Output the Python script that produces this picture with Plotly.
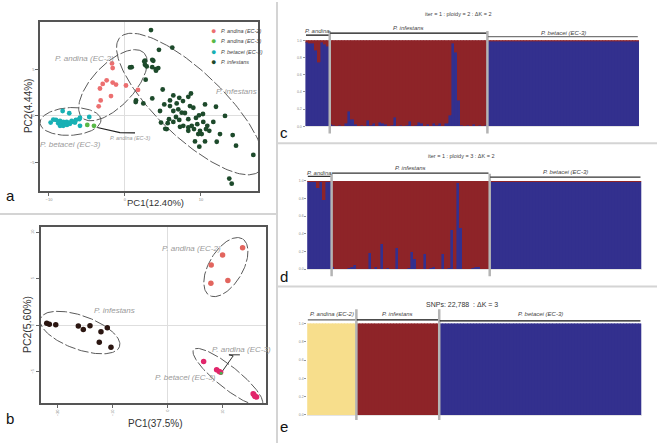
import numpy as np
import plotly.graph_objects as go

W, H = 657, 445

# ---------------- panel a : PCA (PC1 12.40% / PC2 4.44%) ----------------
a_andina2_x = [-1.71, -1.62, -2.41, -2.93, -3.29, -1.62, -1.18, -1.84, 0.13, 1.71, -3.20, -3.46]
a_andina2_y = [5.64, 5.14, 3.83, 3.44, 2.95, 3.59, 3.37, 2.13, 3.27, 2.80, 1.67, 1.03]
a_andina3_x = [-4.96, -4.08]
a_andina3_y = [-0.96, -1.06]
a_betacei_x = [-9.78, -9.08, -8.20, -7.33, -8.78, -8.33, -8.12, -7.89, -7.67, -7.33, -7.01, -6.80,
               -6.58, -5.92, -6.01, -4.70, -8.12, -8.55, -9.43, -5.92, -7.63, -7.24, -8.55, -6.45]
a_betacei_y = [-0.71, -0.43, 0.53, 0.29, -0.78, -0.99, -0.64, -0.88, -0.64, -0.71, -0.53, -0.64,
               -0.71, -1.06, -0.35, -0.11, -1.06, -1.06, -0.39, -0.18, -0.96, -0.85, -0.53, -0.43]
a_infestans_x = [3.42, 4.47, 6.22, 2.63, 2.63, 2.86, 3.59, 3.59, 4.04, 4.38, 0.66, 2.72, 4.96, 3.59,
                 2.41, 1.41, 6.36, 7.14, 8.68, 8.33, 5.17, 5.92, 6.80, 7.01, 6.36, 7.46, 8.55, 8.99,
                 9.74, 10.53, 11.97, 13.16, 4.61, 5.79, 5.62, 6.36, 7.14, 7.67, 8.33, 8.33, 8.78,
                 9.51, 9.87, 9.64, 10.09, 10.66, 11.09, 10.83, 11.62, 12.50, 14.17, 9.21, 10.53,
                 9.78, 12.07, 14.61, 16.88, 13.72, 14.04, 4.74, 5.49, 8.33, 9.08, 10.30, 0.88, 3.72,
                 4.08, 1.45, 5.92, 5.30, 2.54, 7.63, 7.89, 6.71, 9.34, 10.26, 7.24]
a_infestans_y = [9.22, 7.10, 7.34, 5.93, 5.50, 5.32, 6.03, 5.24, 5.03, 5.14, 5.21, 3.90, 2.84, 1.88,
                 1.35, 1.49, 2.20, 1.95, 2.41, 2.05, 1.24, 1.06, 1.35, 0.71, 0.53, 0.35, 1.06, 0.88,
                 0.07, 1.24, 0.99, 0.00, 0.53, -0.35, -0.78, -0.64, -0.43, -1.06, -0.35, -1.60, -1.06,
                 -0.88, -1.60, -1.95, -1.95, -1.41, -1.60, -1.06, -0.64, -1.95, -2.05, -2.73, -2.73,
                 -3.30, -2.77, -3.19, -4.18, -6.73, -7.27, -0.71, -1.41, -1.24, -1.41, -0.64, 5.24,
                 5.93, 4.86, 1.67, 1.67, -1.38, 5.85, 1.60, 0.32, -0.11, -0.21, 0.21, -1.17]

# ---------------- panel b : PCA (PC1 37.5% / PC2 5.60%) ----------------
b_andina2_x = [13.64, 10.00, 7.93, 7.87, 10.96]
b_andina2_y = [8.33, 7.55, 6.49, 4.53, 4.82]
b_infestans_x = [-22.0, -21.53, -20.36, -16.25, -15.35, -14.13, -12.13, -10.98, -12.44, -10.31]
b_infestans_y = [0.24, 0.11, 0.06, -0.07, -0.43, -0.04, -0.68, -0.26, -1.81, -2.34]
b_betacei_x = [6.55, 8.91, 9.38, 9.64, 15.56, 15.87, 16.18, 15.69, 15.96]
b_betacei_y = [-3.87, -4.76, -4.94, -5.04, -7.34, -7.60, -7.70, -7.41, -7.63]
b_andina3_x = [9.75]
b_andina3_y = [-5.15]

# ---------------- panels c, d : STRUCTURE K=2 (blue membership) ----------------
c_andina_blue = [0.98, 0.97, 0.97, 0.88, 0.74, 0.98, 0.95, 0.93]
c_infestans_blue = [0.02, 0.01, 0.00, 0.01, 0.00, 0.04, 0.17, 0.08, 0.02, 0.00,
                    0.01, 0.00, 0.07, 0.01, 0.03, 0.00, 0.05, 0.03, 0.02, 0.00,
                    0.01, 0.10, 0.00, 0.01, 0.00, 0.01, 0.06, 0.00, 0.01, 0.05,
                    0.03, 0.00, 0.02, 0.00, 0.03, 0.01, 0.04, 0.00, 0.03, 0.13,
                    0.97, 0.86, 0.30, 0.01, 0.00, 0.01, 0.00, 0.02, 0.00, 0.01,
                    0.00, 0.01]
c_betacei_blue = [0.985, 0.985, 0.985, 0.985, 0.985, 0.985, 0.985, 0.985, 0.985, 0.985,
                  0.985, 0.985, 0.985, 0.985, 0.985, 0.985, 0.985, 0.985, 0.985, 0.985,
                  0.985, 0.985, 0.985, 0.985, 0.985, 0.985, 0.985, 0.985, 0.985, 0.985,
                  0.985, 0.985, 0.985, 0.985, 0.985, 0.985, 0.985, 0.985, 0.985, 0.985,
                  0.985, 0.985, 0.985, 0.985, 0.985, 0.985, 0.985, 0.985, 0.985, 0.985]

d_andina_blue = [0.99, 0.99, 0.985, 0.92, 0.99, 0.78, 0.99, 0.99]
d_infestans_blue = [0.02, 0.00, 0.00, 0.00, 0.00, 0.01, 0.03, 0.05, 0.00, 0.00,
                    0.00, 0.00, 0.18, 0.00, 0.03, 0.00, 0.29, 0.00, 0.01, 0.00,
                    0.00, 0.24, 0.00, 0.00, 0.00, 0.01, 0.20, 0.12, 0.00, 0.00,
                    0.17, 0.00, 0.01, 0.03, 0.00, 0.00, 0.17, 0.00, 0.01, 0.44,
                    0.00, 0.98, 0.47, 0.00, 0.00, 0.00, 0.01, 0.02, 0.02, 0.00,
                    0.00, 0.00]
d_betacei_blue = [0.99, 0.99, 0.99, 0.99, 0.99, 0.99, 0.99, 0.99, 0.99, 0.99,
                  0.99, 0.99, 0.99, 0.99, 0.99, 0.99, 0.99, 0.99, 0.99, 0.99,
                  0.99, 0.99, 0.99, 0.99, 0.99, 0.99, 0.99, 0.99, 0.99, 0.99,
                  0.99, 0.99, 0.99, 0.99, 0.99, 0.99, 0.99, 0.99, 0.99, 0.99,
                  0.99, 0.99, 0.99, 0.99, 0.99, 0.99, 0.99, 0.99, 0.99, 0.99]

# ---------------- panel e : SNPs, K=3 ----------------
e_andina_yellow = [1.0, 1.0, 1.0, 1.0, 1.0, 1.0, 1.0, 1.0, 1.0, 1.0, 1.0, 1.0, 1.0, 1.0, 1.0, 1.0]
e_infestans_red = [1.0, 1.0, 1.0, 1.0, 1.0, 1.0, 1.0, 1.0, 1.0, 1.0, 1.0, 1.0, 1.0, 1.0,
                   1.0, 1.0, 1.0, 1.0, 1.0, 1.0, 1.0, 1.0, 1.0, 1.0, 1.0, 1.0, 1.0]
e_betacei_blue = [1.0, 1.0, 1.0, 1.0, 1.0, 1.0, 1.0, 1.0, 1.0, 1.0, 1.0, 1.0, 1.0, 1.0, 1.0, 1.0,
                  1.0, 1.0, 1.0, 1.0, 1.0, 1.0, 1.0, 1.0, 1.0, 1.0, 1.0, 1.0, 1.0, 1.0, 1.0, 1.0,
                  1.0, 1.0, 1.0, 1.0, 1.0, 1.0, 1.0, 1.0, 1.0, 1.0, 1.0, 1.0, 1.0, 1.0, 1.0, 1.0,
                  1.0, 1.0, 1.0, 1.0, 1.0, 1.0, 1.0, 1.0, 1.0, 1.0, 1.0, 1.0, 1.0, 1.0, 1.0, 1.0,
                  1.0, 1.0]

RED, BLUE, YELLOW = "#8e2428", "#33308e", "#f7de8c"
ELL = "#5a5a5a"
LBL = "#9a9a9a"
FONT = "Arial, Liberation Sans, sans-serif"


def px(x):
    return x / W


def py(y):
    return 1 - y / H


def ellipse(cx, cy, a, b, ang, kx, ky, n=160):
    # a, b in screen px, rotated by ang degrees, returned in data units
    t = np.linspace(0, 2 * np.pi, n)
    r = np.deg2rad(ang)
    ex = a * np.cos(t) * np.cos(r) - b * np.sin(t) * np.sin(r)
    ey = a * np.cos(t) * np.sin(r) + b * np.sin(t) * np.cos(r)
    return cx + ex / kx, cy + ey / ky


fig = go.Figure()

# panel a
A_XR, A_YR = [-11.18, 17.5], [-8.09, 10.11]
A_DX, A_DY = [40, 258], [191, 20]
akx = (A_DX[1] - A_DX[0]) / (A_XR[1] - A_XR[0])
aky = (A_DY[0] - A_DY[1]) / (A_YR[1] - A_YR[0])

for (cx, cy, a, b, ang) in [(8.55, 1.28, 97, 33, -44), (-1.58, 3.30, 45, 21, 47), (-7.17, -0.59, 30.5, 14, 3)]:
    ex, ey = ellipse(cx, cy, a, b, ang, akx, aky)
    fig.add_trace(go.Scatter(x=ex, y=ey, mode="lines", line=dict(color=ELL, width=1, dash="11px,2.5px"),
                             xaxis="x", yaxis="y", hoverinfo="skip"))

fig.add_trace(go.Scatter(x=[-3.64, -0.66, 1.32], y=[-1.24, -1.78, -1.81], mode="lines",
                         line=dict(color="#222", width=1.2), xaxis="x", yaxis="y", hoverinfo="skip"))

for xs, ys, col in [(a_infestans_x, a_infestans_y, "#1d4a2b"), (a_andina2_x, a_andina2_y, "#ec6f70"),
                    (a_betacei_x, a_betacei_y, "#18b0b4"), (a_andina3_x, a_andina3_y, "#58b947")]:
    fig.add_trace(go.Scatter(x=xs, y=ys, mode="markers", marker=dict(color=col, size=4.8, line=dict(width=0)),
                             xaxis="x", yaxis="y"))

# panel b
B_XR, B_YR = [-23.1, 17.9], [-8.34, 10.6]
B_DX, B_DY = [40.7, 266], [404.7, 226.7]
bkx = (B_DX[1] - B_DX[0]) / (B_XR[1] - B_XR[0])
bky = (B_DY[0] - B_DY[1]) / (B_YR[1] - B_YR[0])

for (cx, cy, a, b, ang) in [(10.6, 6.26, 33, 17, 60), (-15.95, -0.77, 42, 17, -20), (10.96, -5.55, 44, 11, -39)]:
    ex, ey = ellipse(cx, cy, a, b, ang, bkx, bky)
    fig.add_trace(go.Scatter(x=ex, y=ey, mode="lines", line=dict(color=ELL, width=1, dash="11px,2.5px"),
                             xaxis="x2", yaxis="y2", hoverinfo="skip"))

fig.add_trace(go.Scatter(x=[9.69, 11.93, 11.15, 13.15], y=[-5.15, -3.27, -3.16, -3.16], mode="lines",
                         line=dict(color="#333", width=1), xaxis="x2", yaxis="y2", hoverinfo="skip"))

for xs, ys, col, sz in [(b_infestans_x, b_infestans_y, "#2b1611", 5.5), (b_andina2_x, b_andina2_y, "#e2655e", 5.5),
                        (b_betacei_x, b_betacei_y, "#e1266b", 5.5), (b_andina3_x, b_andina3_y, "#4caf50", 3)]:
    fig.add_trace(go.Scatter(x=xs, y=ys, mode="markers", marker=dict(color=col, size=sz, line=dict(width=0)),
                             xaxis="x2", yaxis="y2"))

# panels c, d (K = 2)
for blue_groups, xa, ya in [((c_andina_blue, c_infestans_blue, c_betacei_blue), "x3", "y3"),
                            ((d_andina_blue, d_infestans_blue, d_betacei_blue), "x4", "y4")]:
    blue = [v for g in blue_groups for v in g]
    red = [1 - v for v in blue]
    idx = list(range(len(blue)))
    fig.add_trace(go.Bar(x=idx, y=blue, marker=dict(color=BLUE, line=dict(width=0.4, color=BLUE)),
                         xaxis=xa, yaxis=ya))
    fig.add_trace(go.Bar(x=idx, y=red, marker=dict(color=RED, line=dict(width=0.4, color=RED)),
                         xaxis=xa, yaxis=ya))

# panel e (K = 3)
n1, n2 = len(e_andina_yellow), len(e_infestans_red)
n3 = len(e_betacei_blue)
for vals, start, col in [(e_andina_yellow, 0, YELLOW), (e_infestans_red, n1, RED), (e_betacei_blue, n1 + n2, BLUE)]:
    fig.add_trace(go.Bar(x=list(range(start, start + len(vals))), y=vals,
                         marker=dict(color=col, line=dict(width=0.4, color=col)), xaxis="x5", yaxis="y5"))

pca_ax = dict(showgrid=False, zeroline=True, zerolinecolor="#dedede", zerolinewidth=1, showline=True,
              mirror=True, linecolor="#555", linewidth=1.5, ticks="outside", ticklen=3, tickcolor="#666",
              tickfont=dict(size=4, color="#888"))
str_x = dict(showgrid=False, zeroline=False, showticklabels=False, ticks="", showline=True,
             linecolor="#e4e4e4", linewidth=1)
str_y = dict(range=[0, 1], showgrid=False, zeroline=False, tickvals=[0, 0.2, 0.4, 0.6, 0.8, 1.0],
             ticktext=["0.0", "0.2", "0.4", "0.6", "0.8", "1.0"], ticks="outside", ticklen=2,
             tickcolor="#999", tickfont=dict(size=3.5, color="#888"))

nc = len(c_andina_blue) + len(c_infestans_blue) + len(c_betacei_blue)
nd = len(d_andina_blue) + len(d_infestans_blue) + len(d_betacei_blue)
ne = n1 + n2 + n3

fig.update_layout(
    width=W, height=H, autosize=False, showlegend=False,
    margin=dict(l=0, r=0, t=0, b=0),
    paper_bgcolor="white", plot_bgcolor="white",
    font=dict(family=FONT, color="#333"),
    barmode="stack", bargap=0,
    xaxis=dict(domain=[px(A_DX[0]), px(A_DX[1])], range=A_XR, anchor="y", tickvals=[-10, 0, 10], **pca_ax),
    yaxis=dict(domain=[py(A_DY[0]), py(A_DY[1])], range=A_YR, anchor="x", tickvals=[-5, 0, 5], **pca_ax),
    xaxis2=dict(domain=[px(B_DX[0]), px(B_DX[1])], range=B_XR, anchor="y2", tickvals=[-20, -10, 0, 10],
                tickangle=-90, **pca_ax),
    yaxis2=dict(domain=[py(B_DY[0]), py(B_DY[1])], range=B_YR, anchor="x2", tickvals=[-5, 0, 5, 10],
                tickangle=-90, **pca_ax),
    xaxis3=dict(domain=[px(305.5), px(639)], range=[-0.5, nc - 0.5], anchor="y3", **str_x),
    yaxis3=dict(domain=[py(125.5), py(38.7)], anchor="x3", **str_y),
    xaxis4=dict(domain=[px(307.3), px(641.7)], range=[-0.5, nd - 0.5], anchor="y4", **str_x),
    yaxis4=dict(domain=[py(269.5), py(180.5)], anchor="x4", **str_y),
    xaxis5=dict(domain=[px(307.3), px(641.7)], range=[-0.5, ne - 0.5], anchor="y5", **str_x),
    yaxis5=dict(domain=[py(416.7), py(324.3)], anchor="x5", **str_y),
)

shapes = []
ann = []


def note(text, x, y, size, color, **kw):
    d = dict(xref="paper", yref="paper", x=px(x), y=py(y), text=text, showarrow=False,
             xanchor="center", yanchor="middle", font=dict(size=size, color=color))
    d.update(kw)
    ann.append(d)


# panel frame separators
sep = dict(type="line", xref="paper", yref="paper", line=dict(color="#d4d4d4", width=2))
shapes.append(dict(sep, x0=px(277), x1=px(277), y0=0, y1=1))
shapes.append(dict(sep, x0=0, x1=px(277), y0=py(214), y1=py(214)))
shapes.append(dict(sep, x0=px(277), x1=1, y0=py(142.5), y1=py(142.5)))
shapes.append(dict(sep, x0=px(277), x1=1, y0=py(287), y1=py(287)))

# structure group separators, bars and labels
struct = [
    ("x3", [len(c_andina_blue), len(c_infestans_blue), len(c_betacei_blue)], (29.3, 132.7),
     ["P. andina", "P. infestans", "P. betacei (EC-3)"], [29.5, 26.5, 31], [33.5, 31.5, 35],
     ["#111", "#111", "#777"]),
    ("x4", [len(d_andina_blue), len(d_infestans_blue), len(d_betacei_blue)], (173.3, 276.7),
     ["P. andina", "P. infestans", "P. betacei (EC-3)"], [172.3, 167.3, 171.7], [176, 172.7, 176.7],
     ["#333", "#333", "#333"]),
    ("x5", [n1, n2, n3], (310, 421.7),
     ["P. andina (EC-2)", "P. infestans", "P. betacei (EC-3)"], [314.5, 314.5, 314.5], [320.7, 320.7, 321.7],
     ["#666", "#111", "#111"]),
]
for xa, counts, (s0, s1), names, ty, ly, lc in struct:
    edges = np.cumsum([0] + counts) - 0.5
    for e in edges[1:-1]:
        shapes.append(dict(type="line", xref=xa, yref="paper", x0=e, x1=e, y0=py(s1), y1=py(s0),
                           line=dict(color="#b4b4b4", width=2.5)))
    for k in range(3):
        shapes.append(dict(type="line", xref=xa, yref="paper", x0=edges[k] + 0.15, x1=edges[k + 1] - 0.4,
                           y0=py(ly[k]), y1=py(ly[k]), line=dict(color=lc[k], width=1.2)))
        ann.append(dict(xref=xa, yref="paper", x=(edges[k] + edges[k + 1]) / 2, y=py(ty[k]),
                        xanchor="center", yanchor="middle",
                        text="<i>" + names[k] + "</i>", showarrow=False, font=dict(size=6, color="#444")))

# structure titles
note("iter = 1 : ploidy = 2 : ΔK = 2", 458, 11.7, 5.5, "#444")
note("iter = 1 : ploidy = 3 : ΔK = 2", 461.7, 155.7, 5.5, "#444")
note("SNPs: 22,788  : ΔK = 3", 461.7, 305, 7, "#333")

# panel letters
for t, x, y in [("a", 10, 195), ("b", 10, 420), ("c", 283.5, 131.5), ("d", 283.5, 276.5), ("e", 283.5, 428)]:
    note(t, x, y, 15, "#111")

# axis titles
note("PC1(12.40%)", 155, 202, 9.5, "#333")
note("PC2(4.44%)", 28, 105, 10, "#333", textangle=-90)
note("PC1(37.5%)", 155, 425, 10, "#333")
note("PC2(5.60%)", 27, 326, 10.5, "#333", textangle=-90)

# group labels on PCA panels
for t, xa, ya, x, y, sz in [("P. andina (EC-2)", "x", "y", -5.36, 6.14, 8),
                            ("P. infestans", "x", "y", 14.70, 2.66, 8),
                            ("P. betacei (EC-3)", "x", "y", -7.14, -3.09, 8),
                            ("P. andina (EC-3)", "x", "y", 0.66, -2.34, 5.5),
                            ("P. andina (EC-2)", "x2", "y2", 4.42, 8.26, 8),
                            ("P. infestans", "x2", "y2", -9.76, 1.63, 8),
                            ("P. andina (EC-3)", "x2", "y2", 13.45, -2.55, 8),
                            ("P. betacei (EC-3)", "x2", "y2", 3.33, -5.57, 8)]:
    ann.append(dict(xref=xa, yref=ya, x=x, y=y, text="<i>" + t + "</i>", showarrow=False,
                    xanchor="center", yanchor="middle", font=dict(size=sz, color=LBL)))

# legend of panel a
for t, col, y in [("P. andina (EC-2)", "#ec6f70", 29.3), ("P. andina (EC-3)", "#58b947", 39.5),
                  ("P. betacei (EC-3)", "#18b0b4", 50.3), ("P. infestans", "#1d4a2b", 60.8)]:
    note("●", 213, y, 9, col)
    note("<i>" + t + "</i>", 218.5, y, 5.5, "#444", xanchor="left")

fig.update_layout(shapes=shapes, annotations=ann)
fig.write_html("out.html", config={"displayModeBar": False},
               post_script="document.body.style.margin='0';")
